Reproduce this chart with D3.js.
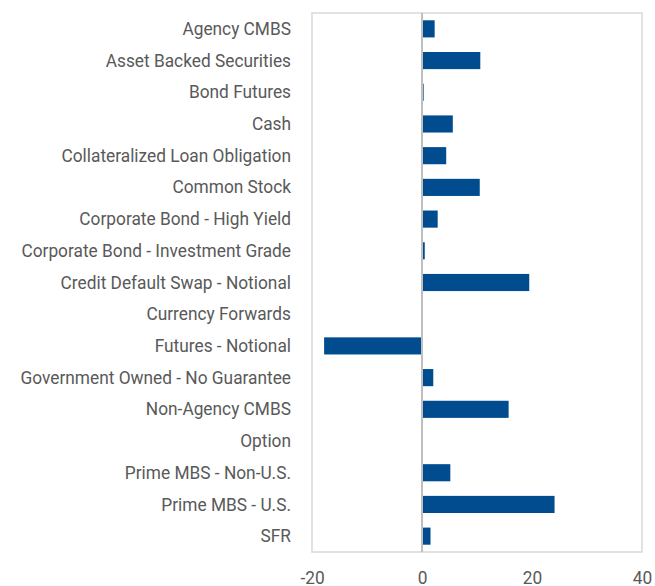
<!DOCTYPE html>
<html lang="en">
<head>
  <meta charset="utf-8">
  <title>Holdings by type</title>
  <script src="https://cdn.jsdelivr.net/npm/d3@7"></script>
  <style>
    body { margin: 0; background: #fff; }
    .lbl text { font-family: Roboto, sans-serif; font-size: 19px; fill: #595959; }
  </style>
</head>
<body>
  <svg id="svg" width="655" height="586"></svg>
  <script type="text/javascript">

    var categories = ['Agency CMBS', 'Asset Backed Securities', 'Bond Futures', 'Cash',
      'Collateralized Loan Obligation', 'Common Stock', 'Corporate Bond - High Yield',
      'Corporate Bond - Investment Grade', 'Credit Default Swap - Notional', 'Currency Forwards',
      'Futures - Notional', 'Government Owned - No Guarantee', 'Non-Agency CMBS', 'Option',
      'Prime MBS - Non-U.S.', 'Prime MBS - U.S.', 'SFR'];
    var values = [2.3, 10.6, 0.3, 5.6, 4.4, 10.5, 2.85, 0.5, 19.5, 0, -17.8, 2.05, 15.75, 0, 5.15, 24.1, 1.55];
    var ticks = [-20, 0, 20, 40];

    var svg = d3.select('#svg');

    var x = d3.scaleLinear().domain([-20, 40]).range([312, 642]);
    var y = d3.scaleBand().domain(categories).range([13, 552])
      .paddingInner(0.46).paddingOuter(0.23);

    // frame
    svg.append('rect')
      .attr('x', x(-20)).attr('y', 13)
      .attr('width', x(40) - x(-20)).attr('height', 539)
      .style('fill', 'none')
      .style('stroke', '#d9d9d9')
      .style('stroke-width', 1.5);

    // bars
    svg.selectAll('rect.bar')
      .data(values)
      .enter()
      .append('rect')
      .attr('class', 'bar')
      .attr('x', (d) => d < 0 ? x(d) : x(0))
      .attr('y', (d, i) => y(categories[i]))
      .attr('width', (d) => Math.abs(x(d) - x(0)))
      .attr('height', y.bandwidth())
      .style('fill', '#004c8f');

    // zero line
    svg.append('line')
      .attr('x1', x(0)).attr('x2', x(0))
      .attr('y1', 13).attr('y2', 552)
      .style('stroke', '#bfbfbf')
      .style('stroke-width', 2);

    // category labels
    var yAxis = svg.append('g')
      .attr('class', 'lbl')
      .attr('transform', 'translate(312,0)')
      .call(d3.axisLeft(y).tickSize(0).tickPadding(21));
    yAxis.select('.domain').remove();

    // x tick labels
    var xAxis = svg.append('g')
      .attr('class', 'lbl')
      .attr('transform', 'translate(0,584)')
      .call(d3.axisBottom(x).tickValues(ticks).tickSize(0).tickPadding(0)
        .tickFormat((d) => String(d)));
    xAxis.select('.domain').remove();
    xAxis.selectAll('text').attr('y', 0).attr('dy', '0');

    // the source font is condensed: squeeze text horizontally
    var squeeze = 0.91;
    svg.selectAll('.lbl text').each(function () {
      var w = this.getComputedTextLength();
      d3.select(this)
        .attr('textLength', w * squeeze)
        .attr('lengthAdjust', 'spacingAndGlyphs');
    });
  </script>
</body>
</html>
